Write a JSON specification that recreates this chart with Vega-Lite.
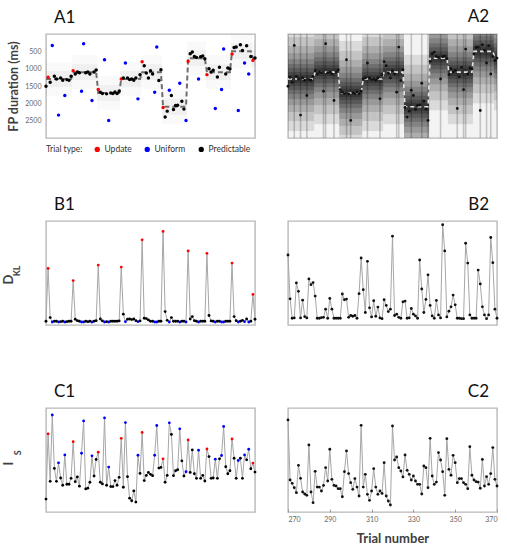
{
  "$schema": "https://vega.github.io/schema/vega-lite/v6.json",
  "padding": {"left": 1, "top": 7, "right": 5, "bottom": 5},
  "config": {
    "font": "Lato",
    "view": {"stroke": "#b8b8b8", "strokeWidth": 1.4},
    "axis": {"grid": false, "domain": false, "labelOverlap": false, "labelColor": "#666666", "labelFontSize": 7, "titleColor": "#404040", "titleFontWeight": "bold", "titleFontSize": 12.5},
    "title": {"fontSize": 17, "fontWeight": "normal", "color": "#111111", "frame": "group", "offset": 7}
  },
  "datasets": {
    "trials": [
      {"t":270,"type":"Predictable","fp":1507,"mu":1300,"d1":3.6,"i1":12.4,"d2":67.3,"i2":88.5},
      {"t":271,"type":"Update","fp":1249,"mu":1300,"d1":54.4,"i1":75.2,"d2":25.2,"i2":30.8},
      {"t":272,"type":"Predictable","fp":1392,"mu":1300,"d1":7.1,"i1":29.5,"d2":6.5,"i2":27.6},
      {"t":273,"type":"Uniform","fp":330,"mu":1300,"d1":2.9,"i1":93.3,"d2":6.8,"i2":23.4},
      {"t":274,"type":"Predictable","fp":1220,"mu":1300,"d1":3.6,"i1":41.9,"d2":40.5,"i2":18.6},
      {"t":275,"type":"Predictable","fp":1297,"mu":1300,"d1":3.6,"i1":29.5,"d2":32.4,"i2":44.9},
      {"t":276,"type":"Uniform","fp":2340,"mu":1300,"d1":2.9,"i1":47.3,"d2":6.8,"i2":32.4},
      {"t":277,"type":"Predictable","fp":1268,"mu":1300,"d1":3.2,"i1":32.7,"d2":23.9,"i2":19.2},
      {"t":278,"type":"Predictable","fp":1335,"mu":1300,"d1":3.6,"i1":25.7,"d2":8.1,"i2":17.3},
      {"t":279,"type":"Uniform","fp":1775,"mu":1300,"d1":2.9,"i1":54.9,"d2":6.8,"i2":16.0},
      {"t":280,"type":"Predictable","fp":1316,"mu":1300,"d1":3.2,"i1":26.7,"d2":44.3,"i2":64.4},
      {"t":281,"type":"Predictable","fp":1335,"mu":1300,"d1":3.6,"i1":26.7,"d2":38.8,"i2":19.2},
      {"t":282,"type":"Predictable","fp":1220,"mu":1300,"d1":3.6,"i1":32.4,"d2":40.8,"i2":9.0},
      {"t":283,"type":"Update","fp":1057,"mu":1100,"d1":42.7,"i1":67.6,"d2":27.8,"i2":39.1},
      {"t":284,"type":"Predictable","fp":1153,"mu":1100,"d1":5.5,"i1":29.2,"d2":6.5,"i2":24.0},
      {"t":285,"type":"Predictable","fp":1096,"mu":1100,"d1":4.2,"i1":33.7,"d2":6.5,"i2":24.0},
      {"t":286,"type":"Predictable","fp":1115,"mu":1100,"d1":3.6,"i1":24.8,"d2":7.1,"i2":20.2},
      {"t":287,"type":"Uniform","fp":1651,"mu":1100,"d1":2.9,"i1":56.5,"d2":7.4,"i2":25.6},
      {"t":288,"type":"Uniform","fp":282,"mu":1100,"d1":2.9,"i1":87.6,"d2":15.2,"i2":42.6},
      {"t":289,"type":"Predictable","fp":1115,"mu":1100,"d1":3.6,"i1":22.2,"d2":6.5,"i2":29.8},
      {"t":290,"type":"Predictable","fp":1096,"mu":1100,"d1":3.2,"i1":22.9,"d2":25.6,"i2":60.3},
      {"t":291,"type":"Predictable","fp":1153,"mu":1100,"d1":3.6,"i1":28.6,"d2":15.2,"i2":31.4},
      {"t":292,"type":"Uniform","fp":1919,"mu":1100,"d1":2.9,"i1":54.0,"d2":6.5,"i2":25.6},
      {"t":293,"type":"Predictable","fp":1096,"mu":1100,"d1":3.6,"i1":34.6,"d2":6.5,"i2":25.0},
      {"t":294,"type":"Predictable","fp":1038,"mu":1100,"d1":4.2,"i1":50.5,"d2":6.5,"i2":22.4},
      {"t":295,"type":"Update","fp":1603,"mu":1700,"d1":57.6,"i1":57.5,"d2":6.5,"i2":22.4},
      {"t":296,"type":"Predictable","fp":1679,"mu":1700,"d1":5.8,"i1":28.6,"d2":29.8,"i2":14.7},
      {"t":297,"type":"Predictable","fp":1718,"mu":1700,"d1":3.9,"i1":27.0,"d2":24.3,"i2":38.8},
      {"t":298,"type":"Uniform","fp":742,"mu":1700,"d1":2.9,"i1":90.5,"d2":24.9,"i2":58.7},
      {"t":299,"type":"Predictable","fp":1727,"mu":1700,"d1":3.2,"i1":25.7,"d2":7.4,"i2":36.9},
      {"t":300,"type":"Uniform","fp":2493,"mu":1700,"d1":2.9,"i1":43.2,"d2":9.1,"i2":28.2},
      {"t":301,"type":"Predictable","fp":1699,"mu":1700,"d1":3.6,"i1":24.4,"d2":8.4,"i2":21.8},
      {"t":302,"type":"Predictable","fp":1718,"mu":1700,"d1":3.6,"i1":24.4,"d2":9.1,"i2":32.1},
      {"t":303,"type":"Predictable","fp":1670,"mu":1700,"d1":3.6,"i1":30.2,"d2":6.5,"i2":24.0},
      {"t":304,"type":"Predictable","fp":1718,"mu":1700,"d1":3.6,"i1":25.7,"d2":30.1,"i2":15.4},
      {"t":305,"type":"Predictable","fp":1651,"mu":1700,"d1":3.9,"i1":33.3,"d2":64.4,"i2":83.3},
      {"t":306,"type":"Update","fp":1297,"mu":1300,"d1":55.7,"i1":70.8,"d2":34.0,"i2":24.0},
      {"t":307,"type":"Predictable","fp":1268,"mu":1300,"d1":10.4,"i1":23.8,"d2":12.0,"i2":36.2},
      {"t":308,"type":"Uniform","fp":837,"mu":1300,"d1":3.2,"i1":86.0,"d2":61.2,"i2":17.0},
      {"t":309,"type":"Predictable","fp":1268,"mu":1300,"d1":5.5,"i1":34.0,"d2":16.5,"i2":11.2},
      {"t":310,"type":"Predictable","fp":1316,"mu":1300,"d1":5.8,"i1":13.3,"d2":7.8,"i2":20.2},
      {"t":311,"type":"Predictable","fp":1297,"mu":1300,"d1":5.2,"i1":10.8,"d2":23.3,"i2":41.7},
      {"t":312,"type":"Predictable","fp":1335,"mu":1300,"d1":5.8,"i1":20.3,"d2":8.4,"i2":24.0},
      {"t":313,"type":"Predictable","fp":1268,"mu":1300,"d1":4.2,"i1":9.5,"d2":17.2,"i2":17.0},
      {"t":314,"type":"Uniform","fp":1871,"mu":1300,"d1":3.2,"i1":54.6,"d2":6.8,"i2":20.2},
      {"t":315,"type":"Predictable","fp":1172,"mu":1300,"d1":3.9,"i1":37.1,"d2":6.1,"i2":17.9},
      {"t":316,"type":"Update","fp":799,"mu":1100,"d1":81.9,"i1":76.5,"d2":24.3,"i2":47.4},
      {"t":317,"type":"Predictable","fp":914,"mu":1100,"d1":6.5,"i1":30.2,"d2":18.8,"i2":15.4},
      {"t":318,"type":"Predictable","fp":1124,"mu":1100,"d1":6.2,"i1":35.2,"d2":12.9,"i2":10.6},
      {"t":319,"type":"Predictable","fp":1268,"mu":1100,"d1":4.9,"i1":38.1,"d2":15.2,"i2":6.7},
      {"t":320,"type":"Predictable","fp":1057,"mu":1100,"d1":3.6,"i1":36.2,"d2":85.4,"i2":82.7},
      {"t":321,"type":"Predictable","fp":1153,"mu":1100,"d1":3.6,"i1":34.9,"d2":9.1,"i2":50.0},
      {"t":322,"type":"Uniform","fp":1679,"mu":1100,"d1":2.9,"i1":54.6,"d2":10.4,"i2":52.9},
      {"t":323,"type":"Uniform","fp":378,"mu":1100,"d1":2.9,"i1":83.2,"d2":7.4,"i2":42.6},
      {"t":324,"type":"Predictable","fp":1344,"mu":1100,"d1":3.6,"i1":42.2,"d2":6.5,"i2":39.4},
      {"t":325,"type":"Predictable","fp":1029,"mu":1100,"d1":3.6,"i1":42.9,"d2":22.3,"i2":33.7},
      {"t":326,"type":"Update","fp":2120,"mu":2100,"d1":90.0,"i1":51.1,"d2":23.0,"i2":54.8},
      {"t":327,"type":"Predictable","fp":2397,"mu":2100,"d1":12.9,"i1":28.6,"d2":6.5,"i2":40.1},
      {"t":328,"type":"Predictable","fp":2225,"mu":2100,"d1":4.5,"i1":35.2,"d2":6.8,"i2":36.2},
      {"t":329,"type":"Uniform","fp":1622,"mu":2100,"d1":2.9,"i1":85.7,"d2":15.9,"i2":30.8},
      {"t":330,"type":"Predictable","fp":1775,"mu":2100,"d1":7.1,"i1":74.6,"d2":10.4,"i2":34.6},
      {"t":331,"type":"Predictable","fp":2177,"mu":2100,"d1":3.6,"i1":34.9,"d2":8.7,"i2":29.8},
      {"t":332,"type":"Predictable","fp":2062,"mu":2100,"d1":3.6,"i1":39.7,"d2":6.5,"i2":26.6},
      {"t":333,"type":"Predictable","fp":2053,"mu":2100,"d1":3.6,"i1":40.6,"d2":62.5,"i2":26.6},
      {"t":334,"type":"Uniform","fp":1421,"mu":2100,"d1":2.9,"i1":80.0,"d2":34.6,"i2":17.3},
      {"t":335,"type":"Predictable","fp":1938,"mu":2100,"d1":3.6,"i1":49.2,"d2":12.0,"i2":44.2},
      {"t":336,"type":"Predictable","fp":2167,"mu":2100,"d1":3.6,"i1":34.6,"d2":24.6,"i2":42.6},
      {"t":337,"type":"Uniform","fp":2493,"mu":2100,"d1":2.9,"i1":38.7,"d2":48.2,"i2":23.4},
      {"t":338,"type":"Update","fp":789,"mu":700,"d1":71.2,"i1":69.2,"d2":18.8,"i2":70.8},
      {"t":339,"type":"Predictable","fp":569,"mu":700,"d1":5.8,"i1":38.1,"d2":8.7,"i2":34.6},
      {"t":340,"type":"Predictable","fp":522,"mu":700,"d1":8.1,"i1":59.7,"d2":6.5,"i2":26.6},
      {"t":341,"type":"Predictable","fp":646,"mu":700,"d1":4.2,"i1":36.8,"d2":23.6,"i2":28.8},
      {"t":342,"type":"Predictable","fp":675,"mu":700,"d1":3.6,"i1":32.4,"d2":9.7,"i2":57.1},
      {"t":343,"type":"Uniform","fp":1297,"mu":700,"d1":2.9,"i1":59.4,"d2":6.8,"i2":50.0},
      {"t":344,"type":"Predictable","fp":656,"mu":700,"d1":3.6,"i1":32.4,"d2":96.4,"i2":38.8},
      {"t":345,"type":"Predictable","fp":636,"mu":700,"d1":3.6,"i1":35.2,"d2":71.2,"i2":16.0},
      {"t":346,"type":"Predictable","fp":713,"mu":700,"d1":3.6,"i1":29.8,"d2":7.8,"i2":70.5},
      {"t":347,"type":"Update","fp":1172,"mu":1100,"d1":68.9,"i1":60.6,"d2":13.3,"i2":41.0},
      {"t":348,"type":"Predictable","fp":1000,"mu":1100,"d1":9.1,"i1":53.3,"d2":17.5,"i2":35.3},
      {"t":349,"type":"Predictable","fp":1096,"mu":1100,"d1":3.9,"i1":32.4,"d2":28.8,"i2":54.5},
      {"t":350,"type":"Predictable","fp":1048,"mu":1100,"d1":3.6,"i1":32.7,"d2":19.4,"i2":47.4},
      {"t":351,"type":"Uniform","fp":2148,"mu":1100,"d1":2.9,"i1":50.8,"d2":6.5,"i2":28.2},
      {"t":352,"type":"Predictable","fp":1239,"mu":1100,"d1":3.6,"i1":32.4,"d2":6.5,"i2":32.1},
      {"t":353,"type":"Predictable","fp":962,"mu":1100,"d1":3.6,"i1":51.1,"d2":6.1,"i2":32.1},
      {"t":354,"type":"Uniform","fp":1603,"mu":1100,"d1":2.9,"i1":54.3,"d2":6.1,"i2":28.2},
      {"t":355,"type":"Uniform","fp":435,"mu":1100,"d1":2.9,"i1":82.2,"d2":78.6,"i2":26.6},
      {"t":356,"type":"Predictable","fp":1153,"mu":1100,"d1":3.6,"i1":43.5,"d2":59.5,"i2":22.4},
      {"t":357,"type":"Predictable","fp":981,"mu":1100,"d1":3.6,"i1":36.8,"d2":9.7,"i2":62.8},
      {"t":358,"type":"Predictable","fp":1010,"mu":1100,"d1":3.6,"i1":39.7,"d2":6.5,"i2":35.3},
      {"t":359,"type":"Update","fp":579,"mu":500,"d1":59.5,"i1":70.2,"d2":6.5,"i2":30.8},
      {"t":360,"type":"Predictable","fp":388,"mu":500,"d1":8.1,"i1":51.7,"d2":6.5,"i2":29.2},
      {"t":361,"type":"Predictable","fp":378,"mu":500,"d1":4.2,"i1":32.4,"d2":52.8,"i2":28.8},
      {"t":362,"type":"Uniform","fp":2206,"mu":500,"d1":2.9,"i1":49.5,"d2":39.5,"i2":22.8},
      {"t":363,"type":"Predictable","fp":311,"mu":500,"d1":3.6,"i1":51.7,"d2":17.5,"i2":50.6},
      {"t":364,"type":"Predictable","fp":474,"mu":500,"d1":4.5,"i1":32.4,"d2":9.7,"i2":25.0},
      {"t":365,"type":"Uniform","fp":837,"mu":500,"d1":3.2,"i1":54.9,"d2":6.1,"i2":34.0},
      {"t":366,"type":"Predictable","fp":340,"mu":500,"d1":5.8,"i1":50.2,"d2":9.7,"i2":26.6},
      {"t":367,"type":"Uniform","fp":1153,"mu":500,"d1":2.9,"i1":60.3,"d2":84.1,"i2":36.9},
      {"t":368,"type":"Predictable","fp":646,"mu":500,"d1":3.6,"i1":41.6,"d2":59.9,"i2":61.9},
      {"t":369,"type":"Update","fp":761,"mu":700,"d1":29.4,"i1":47.0,"d2":15.2,"i2":31.4},
      {"t":370,"type":"Predictable","fp":694,"mu":700,"d1":5.5,"i1":38.4,"d2":6.5,"i2":25.0}
    ]
  },
  "data": {"name": "trials"},
  "resolve": {"scale": {"color": "independent"}, "legend": {"color": "independent"}},
  "bounds": "flush",
  "spacing": 187,
  "vconcat": [
    {
      "bounds": "flush",
      "spacing": 33,
      "resolve": {"scale": {"color": "independent"}, "legend": {"color": "independent"}},
      "hconcat": [
        {
          "width": 209, "height": 104,
          "title": {"text": "A1", "anchor": "start", "dx": 8},
          "encoding": {
            "x": {"field": "t", "type": "quantitative", "scale": {"domain": [270, 370], "nice": false, "zero": false}, "axis": null},
            "y": {"field": "fp", "type": "quantitative", "title": "FP duration (ms)", "scale": {"domain": [0, 3000], "reverse": true, "nice": false, "zero": false},
                  "axis": {"values": [500, 1000, 1500, 2000, 2500], "format": "d", "labelOverlap": false, "labelFlush": false, "labelBound": false, "ticks": false, "labelPadding": 5, "titlePadding": 4}}
          },
          "layer": [
            {"mark": {"type": "tick", "orient": "vertical", "size": 34, "thickness": 2.1, "color": "#000000", "opacity": 0.025, "clip": true},
             "encoding": {"y": {"field": "mu", "type": "quantitative", "title": "FP duration (ms)"}}},
            {"mark": {"type": "tick", "orient": "vertical", "size": 16, "thickness": 2.1, "color": "#000000", "opacity": 0.04, "clip": true},
             "encoding": {"y": {"field": "mu", "type": "quantitative", "title": "FP duration (ms)"}}},
            {"mark": {"type": "line", "color": "#6e6e6e", "strokeWidth": 2, "strokeDash": [5, 3]},
             "encoding": {"y": {"field": "mu", "type": "quantitative", "title": "FP duration (ms)"}}},
            {"mark": {"type": "circle", "size": 12, "opacity": 1},
             "encoding": {
               "color": {"field": "type", "type": "nominal",
                         "scale": {"domain": ["Update", "Uniform", "Predictable"], "range": ["#ff0000", "#0000ff", "#000000"]},
                         "legend": {"title": "Trial type:", "orient": "bottom", "direction": "horizontal", "titleOrient": "left", "titleFontWeight": "normal", "titleFontSize": 8.5, "titleColor": "#333333", "titlePadding": 10, "labelFontSize": 8.5, "labelColor": "#333333", "symbolType": "circle", "symbolSize": 28, "symbolStrokeWidth": 0, "columnPadding": 11, "labelOffset": 3, "offset": 7}}
             }}
          ]
        },
        {
          "width": 209, "height": 104,
          "title": {"text": "A2", "anchor": "end", "dx": -8},
          "view": {"fill": "#f3f3f3"},
          "encoding": {
            "x": {"field": "t", "type": "quantitative", "scale": {"domain": [270, 370], "nice": false, "zero": false}, "axis": null}
          },
          "layer": [
            {"transform": [{"filter": "datum.type == 'Uniform'"}],
             "mark": {"type": "rule", "color": "#000000", "opacity": 0.2, "strokeWidth": 1.6},
             "encoding": {}},
            {"mark": {"type": "tick", "orient": "vertical", "size": 104, "thickness": 2.1, "color": "#000000", "opacity": 0.1, "clip": true},
             "encoding": {"y": {"field": "mu", "type": "quantitative", "scale": {"domain": [0, 3000], "reverse": true, "nice": false, "zero": false}, "axis": null}}},
            {"mark": {"type": "tick", "orient": "vertical", "size": 84, "thickness": 2.1, "color": "#000000", "opacity": 0.1, "clip": true},
             "encoding": {"y": {"field": "mu", "type": "quantitative", "axis": null}}},
            {"mark": {"type": "tick", "orient": "vertical", "size": 66, "thickness": 2.1, "color": "#000000", "opacity": 0.11, "clip": true},
             "encoding": {"y": {"field": "mu", "type": "quantitative", "axis": null}}},
            {"mark": {"type": "tick", "orient": "vertical", "size": 52, "thickness": 2.1, "color": "#000000", "opacity": 0.12, "clip": true},
             "encoding": {"y": {"field": "mu", "type": "quantitative", "axis": null}}},
            {"mark": {"type": "tick", "orient": "vertical", "size": 40, "thickness": 2.1, "color": "#000000", "opacity": 0.14, "clip": true},
             "encoding": {"y": {"field": "mu", "type": "quantitative", "axis": null}}},
            {"mark": {"type": "tick", "orient": "vertical", "size": 30, "thickness": 2.1, "color": "#000000", "opacity": 0.16, "clip": true},
             "encoding": {"y": {"field": "mu", "type": "quantitative", "axis": null}}},
            {"mark": {"type": "tick", "orient": "vertical", "size": 22, "thickness": 2.1, "color": "#000000", "opacity": 0.18, "clip": true},
             "encoding": {"y": {"field": "mu", "type": "quantitative", "axis": null}}},
            {"mark": {"type": "tick", "orient": "vertical", "size": 14, "thickness": 2.1, "color": "#000000", "opacity": 0.2, "clip": true},
             "encoding": {"y": {"field": "mu", "type": "quantitative", "axis": null}}},
            {"mark": {"type": "tick", "orient": "vertical", "size": 8, "thickness": 2.1, "color": "#000000", "opacity": 0.22, "clip": true},
             "encoding": {"y": {"field": "mu", "type": "quantitative", "axis": null}}},
            {"mark": {"type": "line", "color": "#e4e4e4", "strokeWidth": 1.6, "strokeDash": [4, 3]},
             "encoding": {"y": {"field": "mu", "type": "quantitative", "axis": null}}},
            {"mark": {"type": "circle", "size": 8, "color": "#111111", "opacity": 1},
             "encoding": {"y": {"field": "fp", "type": "quantitative", "axis": null}}}
          ]
        }
      ]
    },
    {
      "bounds": "flush",
      "spacing": 33,
      "resolve": {"scale": {"color": "independent"}, "legend": {"color": "independent"}},
      "hconcat": [
        {
          "width": 209, "height": 104,
          "title": {"text": "B1", "anchor": "start", "dx": 8},
          "encoding": {
            "x": {"field": "t", "type": "quantitative", "scale": {"domain": [270, 370], "nice": false, "zero": false}, "axis": null}
          },
          "layer": [
            {"mark": {"type": "line", "color": "#a6a6a6", "strokeWidth": 1},
             "encoding": {"y": {"field": "d1", "type": "quantitative", "title": "D", "scale": {"domain": [0, 100], "nice": false}}}},
            {"mark": {"type": "circle", "size": 8, "opacity": 1},
             "encoding": {
               "y": {"field": "d1", "type": "quantitative", "title": "D",
                     "axis": {"labels": false, "ticks": false, "titlePadding": 31, "titleFontSize": 13, "titleY": 58}},
               "color": {"field": "type", "type": "nominal", "scale": {"domain": ["Update", "Uniform", "Predictable"], "range": ["#ff0000", "#0000ff", "#000000"]}, "legend": null}
             }},
            {"transform": [{"filter": "datum.t == 270"}],
             "mark": {"type": "text", "text": "KL", "angle": 270, "fontSize": 9, "fontWeight": "bold", "color": "#404040"},
             "encoding": {"x": {"datum": 256.2}, "y": {"datum": 52}}}
          ]
        },
        {
          "width": 209, "height": 104,
          "title": {"text": "B2", "anchor": "end", "dx": -8},
          "encoding": {
            "x": {"field": "t", "type": "quantitative", "scale": {"domain": [270, 370], "nice": false, "zero": false}, "axis": null}
          },
          "layer": [
            {"mark": {"type": "line", "color": "#a6a6a6", "strokeWidth": 1},
             "encoding": {"y": {"field": "d2", "type": "quantitative", "scale": {"domain": [0, 100], "nice": false}, "axis": null}}},
            {"mark": {"type": "circle", "size": 8, "color": "#111111", "opacity": 1},
             "encoding": {"y": {"field": "d2", "type": "quantitative", "axis": null}}}
          ]
        }
      ]
    },
    {
      "bounds": "flush",
      "spacing": 33,
      "resolve": {"scale": {"color": "independent"}, "legend": {"color": "independent"}},
      "hconcat": [
        {
          "width": 209, "height": 104,
          "title": {"text": "C1", "anchor": "start", "dx": 8},
          "encoding": {
            "x": {"field": "t", "type": "quantitative", "scale": {"domain": [270, 370], "nice": false, "zero": false}, "axis": null}
          },
          "layer": [
            {"mark": {"type": "line", "color": "#a6a6a6", "strokeWidth": 1},
             "encoding": {"y": {"field": "i1", "type": "quantitative", "title": "I", "scale": {"domain": [0, 100], "nice": false}}}},
            {"mark": {"type": "circle", "size": 8, "opacity": 1},
             "encoding": {
               "y": {"field": "i1", "type": "quantitative", "title": "I",
                     "axis": {"labels": false, "ticks": false, "titlePadding": 31, "titleFontSize": 13, "titleY": 55}},
               "color": {"field": "type", "type": "nominal", "scale": {"domain": ["Update", "Uniform", "Predictable"], "range": ["#ff0000", "#0000ff", "#000000"]}, "legend": null}
             }},
            {"transform": [{"filter": "datum.t == 270"}],
             "mark": {"type": "text", "text": "S", "angle": 270, "fontSize": 9, "fontWeight": "bold", "color": "#404040"},
             "encoding": {"x": {"datum": 256.8}, "y": {"datum": 57}}}
          ]
        },
        {
          "width": 209, "height": 104,
          "title": {"text": "C2", "anchor": "end", "dx": -8},
          "encoding": {
            "x": {"field": "t", "type": "quantitative", "scale": {"domain": [270, 370], "nice": false, "zero": false},
                  "axis": {"values": [270, 290, 310, 330, 350, 370], "title": "Trial number", "tickSize": -3, "tickColor": "#999999", "labelPadding": 6, "titlePadding": 10, "titleFontSize": 13}}
          },
          "layer": [
            {"mark": {"type": "line", "color": "#a6a6a6", "strokeWidth": 1},
             "encoding": {"y": {"field": "i2", "type": "quantitative", "scale": {"domain": [0, 100], "nice": false}, "axis": null}}},
            {"mark": {"type": "circle", "size": 8, "color": "#111111", "opacity": 1},
             "encoding": {"y": {"field": "i2", "type": "quantitative", "axis": null}}}
          ]
        }
      ]
    }
  ]
}
